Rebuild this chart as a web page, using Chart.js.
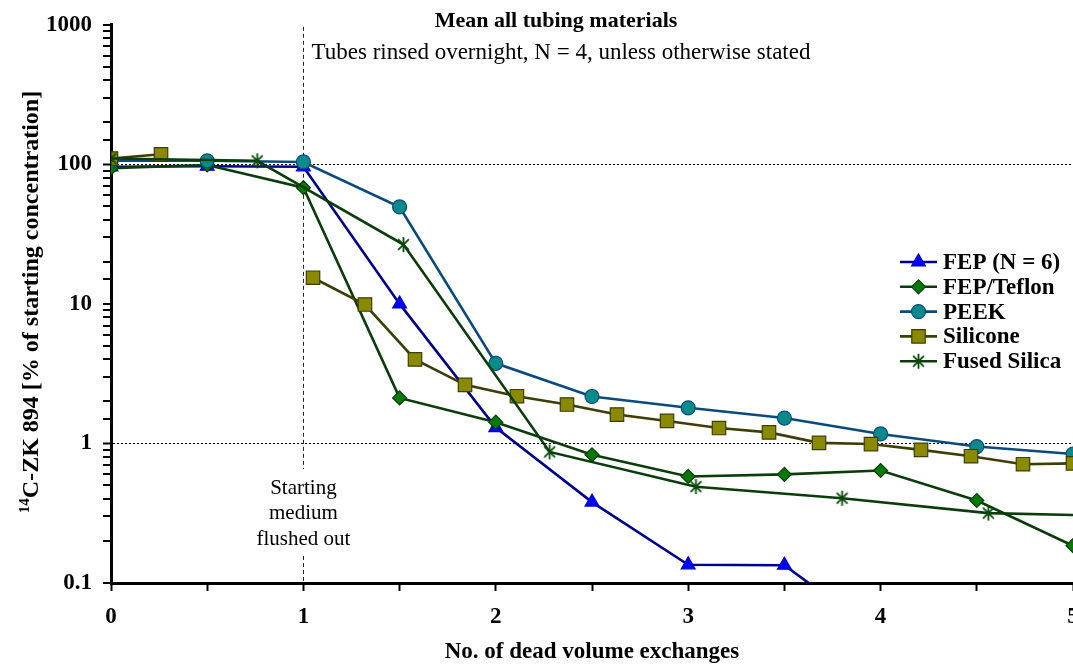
<!DOCTYPE html>
<html>
<head>
<meta charset="utf-8">
<script src="https://cdn.jsdelivr.net/npm/chart.js@4.4.0/dist/chart.umd.min.js"></script>
<style>
  html, body { margin: 0; padding: 0; overflow: hidden; background: #fff; }
  #wrap { position: relative; width: 1100px; height: 664px; }
</style>
</head>
<body>
<div id="wrap"><canvas id="c"></canvas></div>
<script>
// Series labels
const seriesNames = ['FEP (N = 6)', 'FEP/Teflon', 'PEEK', 'Silicone', 'Fused Silica'];

// Dead volume exchanges (x) and % of starting concentration (y) per tubing material
const fepX = [0, 0.5, 1, 1.5, 2, 2.5, 3, 3.5, 4];
const fepY = [96, 97, 96, 10, 1.3, 0.38, 0.135, 0.134, 0.042];

const teflonX = [0, 0.5, 1, 1.5, 2, 2.5, 3, 3.5, 4, 4.5, 5];
const teflonY = [94, 99, 68, 2.12, 1.42, 0.83, 0.58, 0.6, 0.64, 0.39, 0.185];

const peekX = [0, 0.5, 1, 1.5, 2, 2.5, 3, 3.5, 4, 4.5, 5];
const peekY = [106, 106, 104, 49.5, 3.75, 2.17, 1.8, 1.52, 1.17, 0.95, 0.84];

// Silicone was not sampled between 0.26 and 1.05 exchanges (null = no measurement)
const siliconeX = [0, 0.26, 0.53, 0.79, 1.05, 1.32, 1.58, 1.84, 2.11, 2.37, 2.63, 2.89, 3.16, 3.42, 3.68, 3.95, 4.21, 4.47, 4.74, 5.0];
const siliconeY = [110, 118, null, null, 15.4, 9.9, 4.0, 2.63, 2.18, 1.9, 1.61, 1.45, 1.29, 1.2, 1.01, 0.99, 0.9, 0.81, 0.71, 0.72];

const fusedX = [0, 0.76, 1.52, 2.28, 3.04, 3.8, 4.56, 5.32];
const fusedY = [110, 106, 26.6, 0.87, 0.49, 0.405, 0.317, 0.30];

// Axis tick labels
const xTickValues = [0, 1, 2, 3, 4, 5];
const xTickLabels = ['0', '1', '2', '3', '4', '5'];
const yTickValues = [0.1, 1, 10, 100, 1000];
const yTickLabels = ['0.1', '1', '10', '100', '1000'];
const yGridValues = [1, 100];

// Texts
const titleText = 'Mean all tubing materials';
const subtitleText = 'Tubes rinsed overnight, N = 4, unless otherwise stated';
const noteLines = ['Starting', 'medium', 'flushed out'];
const xTitle = 'No. of dead volume exchanges';
const yTitleSup = '14';
const yTitleMain = 'C-ZK 894 [% of starting concentration]';

const SERIF = '"Liberation Serif", "Times New Roman", Times, serif';

function sameValue(a, b) { return Math.abs(a - b) < 1e-9 * Math.max(1, Math.abs(b)); }

function asteriskImage(size, color, lw) {
  const c = document.createElement('canvas');
  c.width = c.height = size;
  const g = c.getContext('2d');
  g.strokeStyle = color;
  g.lineWidth = lw;
  const h = size / 2, r = size / 2 - 1, d = r * 0.72;
  g.beginPath();
  g.moveTo(h, h - r); g.lineTo(h, h + r);
  g.moveTo(h - d, h - d); g.lineTo(h + d, h + d);
  g.moveTo(h + d, h - d); g.lineTo(h - d, h + d);
  g.stroke();
  return c;
}
const starMark = asteriskImage(17, '#084a08', 1.8);

function points(xs, ys) { return xs.map((x, i) => ({ x, y: ys[i] })); }

const styles = [
  { borderColor: '#00008f', pointBackgroundColor: '#0000ff', pointBorderColor: '#0000d0', pointStyle: 'triangle', pointRadius: 8 },
  { borderColor: '#0b3d0b', pointBackgroundColor: '#067a06', pointBorderColor: '#0b3d0b', pointStyle: 'rectRot', pointRadius: 7 },
  { borderColor: '#0a4a7c', pointBackgroundColor: '#0a8a8a', pointBorderColor: '#0a4a7c', pointStyle: 'circle', pointRadius: 7 },
  { borderColor: '#3d3d05', pointBackgroundColor: '#8a8a00', pointBorderColor: '#3d3d05', pointStyle: 'rect', pointRadius: 9.5 },
  { borderColor: '#0b3d0b', pointBackgroundColor: '#084a08', pointBorderColor: '#084a08', pointStyle: starMark, pointRadius: 8.5 }
];
const seriesData = [
  points(fepX, fepY),
  points(teflonX, teflonY),
  points(peekX, peekY),
  points(siliconeX, siliconeY),
  points(fusedX, fusedY)
];

const datasets = seriesNames.map((name, i) => Object.assign({
  label: name,
  data: seriesData[i],
  borderWidth: 2.6,
  pointBorderWidth: 1.2,
  tension: 0,
  spanGaps: false,
  order: seriesNames.length - i
}, styles[i]));

// Marker drawing for the legend
function drawMarker(ctx, st, x, y) {
  ctx.save();
  ctx.fillStyle = st.pointBackgroundColor;
  ctx.strokeStyle = st.pointBorderColor;
  ctx.lineWidth = 1.2;
  if (typeof st.pointStyle !== 'string') {
    ctx.drawImage(st.pointStyle, x - st.pointStyle.width / 2, y - st.pointStyle.height / 2);
  } else if (Chart.helpers && Chart.helpers.drawPoint) {
    Chart.helpers.drawPoint(ctx, { pointStyle: st.pointStyle, radius: st.pointRadius, rotation: 0, borderWidth: 1.2 }, x, y);
  }
  ctx.restore();
}

const decorations = {
  id: 'decorations',
  beforeDatasetsDraw(chart) {
    const { ctx, chartArea, scales } = chart;
    const xp = Math.round(scales.x.getPixelForValue(1)) + 0.5;
    const gapTop = chartArea.bottom - 114, gapBottom = chartArea.bottom - 27;
    ctx.save();
    ctx.strokeStyle = '#222';
    ctx.lineWidth = 1;
    ctx.setLineDash([4, 3]);
    ctx.beginPath();
    ctx.moveTo(xp, chartArea.top + 2); ctx.lineTo(xp, gapTop);
    ctx.moveTo(xp, gapBottom); ctx.lineTo(xp, chartArea.bottom);
    ctx.stroke();
    ctx.restore();
  },
  afterDraw(chart) {
    const { ctx, chartArea, scales } = chart;
    ctx.save();
    ctx.fillStyle = '#000';
    ctx.textAlign = 'center';
    ctx.textBaseline = 'middle';

    // Title block
    ctx.font = 'bold 22px ' + SERIF;
    ctx.fillText(titleText, 556, 21);
    ctx.font = '23px ' + SERIF;
    ctx.fillText(subtitleText, 561, 53);

    // Note beside the x = 1 marker line
    ctx.font = '21px ' + SERIF;
    const xp = scales.x.getPixelForValue(1);
    noteLines.forEach((t, i) => ctx.fillText(t, xp, chartArea.bottom - 95 + i * 25.5));

    // X axis title
    ctx.font = 'bold 23px ' + SERIF;
    ctx.fillText(xTitle, (chartArea.left + chartArea.right) / 2, 652);

    // Y axis title with superscript
    ctx.textAlign = 'left';
    ctx.textBaseline = 'alphabetic';
    ctx.font = 'bold 15px ' + SERIF;
    const wSup = ctx.measureText(yTitleSup).width;
    ctx.font = 'bold 24px ' + SERIF;
    const wMain = ctx.measureText(yTitleMain).width;
    const total = wSup + wMain;
    ctx.translate(38, 302);
    ctx.rotate(-Math.PI / 2);
    ctx.font = 'bold 15px ' + SERIF;
    ctx.fillText(yTitleSup, -total / 2, -9);
    ctx.font = 'bold 24px ' + SERIF;
    ctx.fillText(yTitleMain, -total / 2 + wSup, 0);
    ctx.setTransform(1, 0, 0, 1, 0, 0);

    // Legend
    const lx0 = 900, lx1 = 937, tx = 943, y0 = 262, dy = 24.8;
    ctx.font = 'bold 23px ' + SERIF;
    ctx.textBaseline = 'middle';
    chart.data.datasets.forEach((ds, i) => {
      const y = y0 + i * dy;
      ctx.strokeStyle = ds.borderColor;
      ctx.lineWidth = 2.6;
      ctx.setLineDash([]);
      ctx.beginPath();
      ctx.moveTo(lx0, y); ctx.lineTo(lx1, y);
      ctx.stroke();
      drawMarker(ctx, ds, (lx0 + lx1) / 2, y);
      ctx.fillStyle = '#000';
      ctx.fillText(ds.label, tx, y + 1);
    });
    ctx.restore();
  }
};

const tickFont = { family: SERIF, size: 23, weight: 'bold' };

new Chart(document.getElementById('c'), {
  type: 'line',
  data: { datasets },
  options: {
    responsive: true,
    maintainAspectRatio: false,
    animation: false,
    events: [],
    layout: { padding: { left: 0, top: 23, right: 27, bottom: 0 } },
    plugins: { legend: { display: false }, tooltip: { enabled: false }, title: { display: false } },
    scales: {
      x: {
        type: 'linear',
        min: 0,
        max: 5,
        afterFit(s) { s.height = 81; },
        border: { display: true, color: '#000', width: 3 },
        grid: { drawOnChartArea: false, drawTicks: true, tickLength: 8, tickWidth: 2, tickColor: '#000' },
        ticks: {
          stepSize: 0.5,
          autoSkip: false,
          maxRotation: 0,
          padding: 12,
          color: '#000',
          font: tickFont,
          callback(v) {
            const i = xTickValues.findIndex(t => sameValue(v, t));
            return i >= 0 ? xTickLabels[i] : '';
          }
        }
      },
      y: {
        type: 'logarithmic',
        min: 0.1,
        max: 1000,
        afterFit(s) { s.width = 111; },
        border: { display: true, color: '#000', width: 3, dash: [2, 2] },
        grid: {
          drawOnChartArea: true,
          color: c => (c.tick && yGridValues.some(g => sameValue(c.tick.value, g))) ? '#000' : 'rgba(0,0,0,0)',
          lineWidth: c => (c.tick && yGridValues.some(g => sameValue(c.tick.value, g))) ? 1 : 0,
          drawTicks: true,
          tickLength: 8,
          tickWidth: 2,
          tickColor: '#000',
          tickBorderDash: []
        },
        ticks: {
          autoSkip: false,
          padding: 11,
          color: '#000',
          font: tickFont,
          callback(v) {
            const i = yTickValues.findIndex(t => sameValue(v, t));
            return i >= 0 ? yTickLabels[i] : '';
          }
        }
      }
    }
  },
  plugins: [decorations]
});
</script>
</body>
</html>
